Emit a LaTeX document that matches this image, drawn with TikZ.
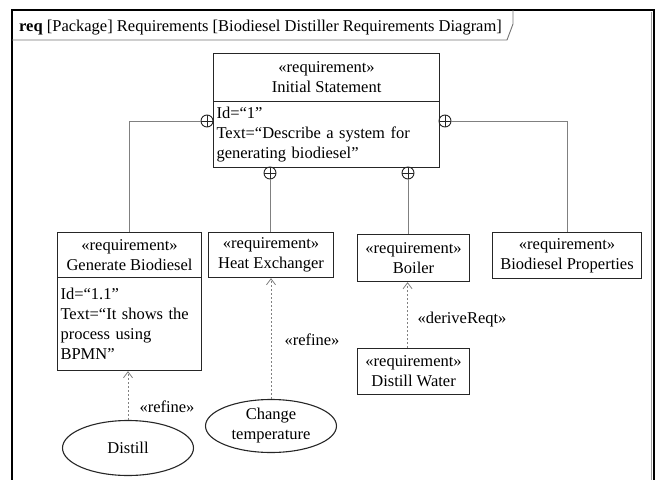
\documentclass[tikz,border=0pt]{standalone}
\usepackage{fontspec}
\setmainfont{Liberation Serif}
\usetikzlibrary{shapes.geometric,arrows.meta}
\begin{document}
\begin{tikzpicture}[x=1pt,y=-1pt,
  font=\fontsize{16.5}{20}\selectfont,
  hdr/.style={draw=black!85,line width=1.1pt,rectangle,inner sep=0pt,align=center,anchor=north west},
  body/.style={draw=black!85,line width=1.1pt,rectangle,inner xsep=3pt,inner ysep=0pt,align=left,anchor=north west},
  usecase/.style={draw=black!85,line width=1.1pt,ellipse,inner sep=0pt,align=center},
  plus/.style={circle,draw=black!85,line width=0.9pt,minimum size=12pt,inner sep=0pt,
    path picture={\draw[black!85,line width=0.9pt]
      (path picture bounding box.north) -- (path picture bounding box.south)
      (path picture bounding box.west) -- (path picture bounding box.east);}},
  conn/.style={draw=black!50,line width=0.8pt},
  dep/.style={draw=black!50,line width=0.8pt,dash pattern=on 2pt off 2pt,
    -{Straight Barb[length=6pt,width=9pt]}},
  lbl/.style={inner sep=0pt}]
\useasboundingbox (0,0) rectangle (657,480);

% diagram frame and heading tab
\draw[black!40,line width=0.8pt] (651.5,12) -- (651.5,482);
\draw[black,line width=1.5pt] (12,482) -- (12,10) -- (654,10) -- (654,482);
\draw[black!55,line width=0.9pt] (12,40) -- (507,40) -- (513,24) -- (513,10);
\node[anchor=base west,inner sep=0pt] (title) at (19,31)
  {\textbf{req} [Package] Requirements [Biodiesel Distiller Requirements Diagram]};

% requirement: Initial Statement
\node[hdr,minimum width=226pt,minimum height=48pt] (is) at (213,53)
  {«requirement»\\Initial Statement};
\node[body,text width=220pt,minimum height=66pt] (isb) at (213,101)
  {Id=“1”\\Text=“Describe a system for\\generating biodiesel”};

% requirement: Generate Biodiesel
\node[hdr,minimum width=144pt,minimum height=45pt] (gb) at (57,232)
  {«requirement»\\Generate Biodiesel};
\node[body,text width=138pt,minimum height=93pt] (gbb) at (57,277)
  {Id=“1.1”\\Text=“It shows the\\process using\\BPMN”};

% remaining requirements
\node[hdr,minimum width=125pt,minimum height=45pt] (he) at (208,232)
  {«requirement»\\Heat Exchanger};
\node[hdr,minimum width=112pt,minimum height=47pt] (bo) at (357,234)
  {«requirement»\\Boiler};
\node[hdr,minimum width=149pt,minimum height=46pt] (bp) at (492,232)
  {«requirement»\\Biodiesel Properties};
\node[hdr,minimum width=112pt,minimum height=46pt] (dw) at (357,348)
  {«requirement»\\Distill Water};

% use cases
\node[usecase,minimum width=131pt,minimum height=55pt] (distill) at (128,448) {Distill};
\node[usecase,minimum width=131pt,minimum height=53pt] (ct) at (271,426)
  {Change\\temperature};

% containment markers
\node[plus] (p1) at (207,121) {};
\node[plus] (p2) at (270,173) {};
\node[plus] (p3) at (408,173) {};
\node[plus] (p4) at (445,121) {};

% containment lines
\draw[conn] (p1.west) -| (gb.north);
\draw[conn] (p2.south) -- (p2.south |- he.north);
\draw[conn] (p3.south) -- (p3.south |- bo.north);
\draw[conn] (p4.east) -| (bp.north);

% dependencies
\draw[dep] (distill.north) -- (distill.north |- gbb.south);
\draw[dep] (ct.north) -- (ct.north |- he.south);
\draw[dep] ([xshift=-6pt]dw.north) -- ([xshift=-6pt]bo.south);

\node[lbl] (l1) at (167,407) {«refine»};
\node[lbl] (l2) at (312,340) {«refine»};
\node[lbl] (l3) at (462,320) {«deriveReqt»};
\end{tikzpicture}
\end{document}
